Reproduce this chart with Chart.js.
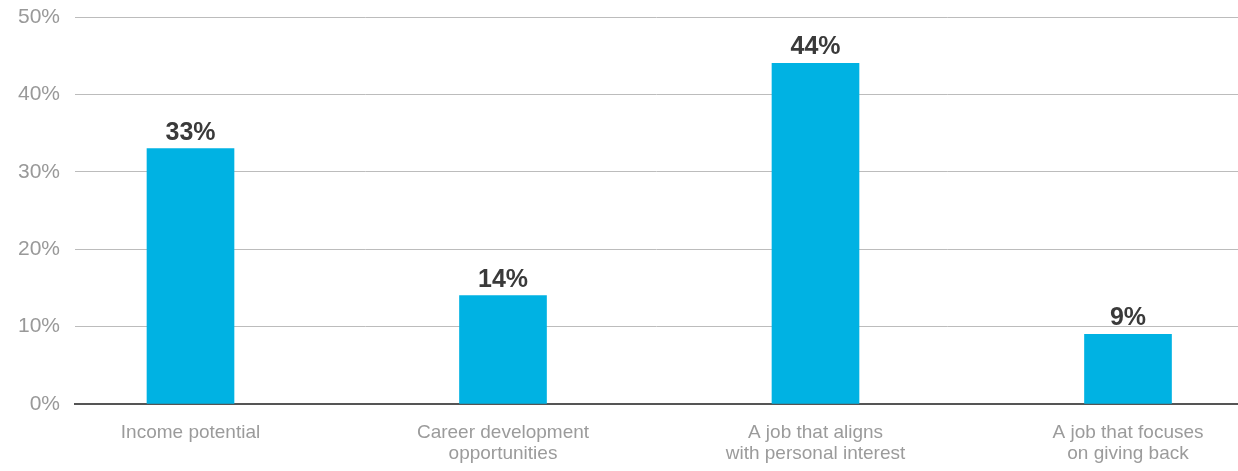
<!DOCTYPE html>
<html>
<head>
<meta charset="utf-8">
<script src="https://cdn.jsdelivr.net/npm/chart.js@4/dist/chart.umd.min.js"></script>
<style>
  html, body { margin: 0; padding: 0; background: #fff; overflow: hidden; }
  canvas { display: block; }
</style>
</head>
<body>
<canvas id="chart" width="1238" height="471"></canvas>
<script>
// categories (multi-line labels) and survey share, in percent
const categories = [
    ['Income potential'],
    ['Career development', 'opportunities'],
    ['A job that aligns', 'with personal interest'],
    ['A job that focuses', 'on giving back']
];
const shares = [33, 14, 44, 9];
const yTicks = [0, 10, 20, 30, 40, 50];

const barColor = '#00b2e3';
const fontFamily = '"Liberation Sans", Arial, Helvetica, sans-serif';

// value labels above each bar
const valueLabels = {
    id: 'valueLabels',
    afterDatasetsDraw(chart) {
        const ctx = chart.ctx;
        const meta = chart.getDatasetMeta(0);
        ctx.save();
        ctx.font = 'bold 25px ' + fontFamily;
        ctx.fillStyle = '#3a3a3a';
        ctx.textAlign = 'center';
        ctx.textBaseline = 'alphabetic';
        meta.data.forEach((bar, i) => {
            ctx.fillText(shares[i] + '%', bar.x, bar.y - 9);
        });
        ctx.restore();
    }
};

const config = {
    type: 'bar',
    data: {
        datasets: [{
            data: shares.map((v, i) => ({ x: i, y: v })),
            backgroundColor: barColor,
            borderWidth: 0,
            barThickness: 87
        }]
    },
    options: {
        responsive: false,
        animation: false,
        devicePixelRatio: 1,
        layout: { padding: { top: 17, right: 0, bottom: 0, left: 0 } },
        plugins: {
            legend: { display: false },
            tooltip: { enabled: false }
        },
        scales: {
            x: {
                type: 'linear',
                offset: false,
                min: -0.3696,
                max: 3.352,
                afterBuildTicks: (scale) => {
                    scale.ticks = categories.map((_, i) => ({ value: i }));
                },
                afterFit: (scale) => {
                    scale.height = 67;
                    scale.paddingLeft = 0;
                    scale.paddingRight = 0;
                },
                grid: { display: false, drawTicks: false },
                border: { display: true, color: '#555555', width: 2 },
                ticks: {
                    autoSkip: false,
                    maxRotation: 0,
                    padding: 19,
                    color: '#9b9b9b',
                    font: { family: fontFamily, size: 19, lineHeight: 1.08 },
                    callback: (value) => categories[value]
                }
            },
            y: {
                min: yTicks[0],
                max: yTicks[yTicks.length - 1],
                afterBuildTicks: (scale) => {
                    scale.ticks = yTicks.map(v => ({ value: v }));
                },
                afterFit: (scale) => {
                    scale.width = 75;
                    scale.paddingTop = 0;
                    scale.paddingBottom = 0;
                },
                grid: { color: '#bcbcbc', lineWidth: 1, drawTicks: false },
                border: { display: false },
                ticks: {
                    padding: 15,
                    color: '#999999',
                    font: { family: fontFamily, size: 21 },
                    callback: (value) => value + '%'
                }
            }
        }
    },
    plugins: [valueLabels]
};

new Chart(document.getElementById('chart'), config);
</script>
</body>
</html>
